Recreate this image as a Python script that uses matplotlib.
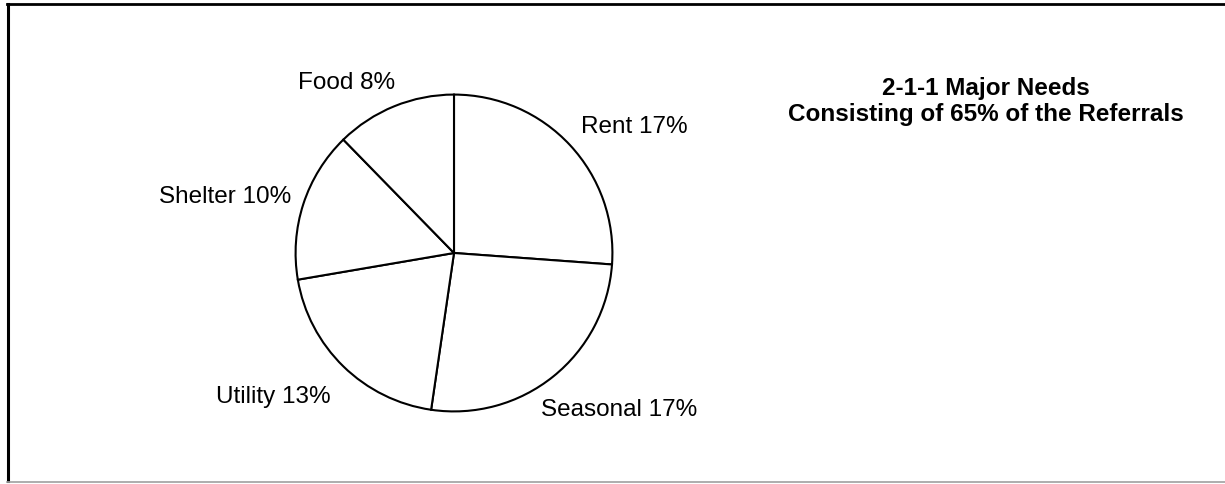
import matplotlib
matplotlib.use("Agg")
import matplotlib.pyplot as plt
from matplotlib.lines import Line2D

categories = ["Rent", "Seasonal", "Utility", "Shelter", "Food"]
values = [17, 17, 13, 10, 8]
title_lines = ["2-1-1 Major Needs", "Consisting of 65% of the Referrals"]

W, H = 1225, 485
plt.rcParams['font.family'] = ['Liberation Sans', 'DejaVu Sans']
fig = plt.figure(figsize=(W / 100, H / 100), dpi=100)
fig.patch.set_facecolor('white')

def px(x, y):
    return x / W, 1 - y / H

# pie axes
cx, cy, r = 454, 254, 160
ax = fig.add_axes([(cx - r) / W, (H - cy - r) / H, 2 * r / W, 2 * r / H])
ax.pie(values, startangle=90, counterclock=False, radius=1,
       colors=['white'] * len(values),
       wedgeprops=dict(edgecolor='black', linewidth=1.5))
ax.set_xlim(-1.01, 1.01)
ax.set_ylim(-1.01, 1.01)
ax.set_aspect('equal')
ax.axis('off')

# labels
label_pos = [(634, 127), (619, 410), (273, 397), (225, 197), (347, 83)]
for cat, v, (x, y) in zip(categories, values, label_pos):
    fx, fy = px(x, y)
    fig.text(fx, fy, f"{cat} {v}%", ha='center', va='center', fontsize=17.5, color='black')

# title
for i, line in enumerate(title_lines):
    fx, fy = px(986, 88 + 27 * i)
    fig.text(fx, fy, line, ha='center', va='center', fontsize=17.5, fontweight='bold')

# frame
fig.add_artist(Line2D([8 / W, 8 / W], [1 - 5 / H, 1 - 482 / H], color='black', lw=2.2))
fig.add_artist(Line2D([7 / W, 1], [1 - 5 / H, 1 - 5 / H], color='black', lw=2.0))
fig.add_artist(Line2D([7 / W, 1], [1 - 483 / H, 1 - 483 / H], color='#a0a0a0', lw=1.2))

fig.savefig("out.png", dpi=100, facecolor='white')
